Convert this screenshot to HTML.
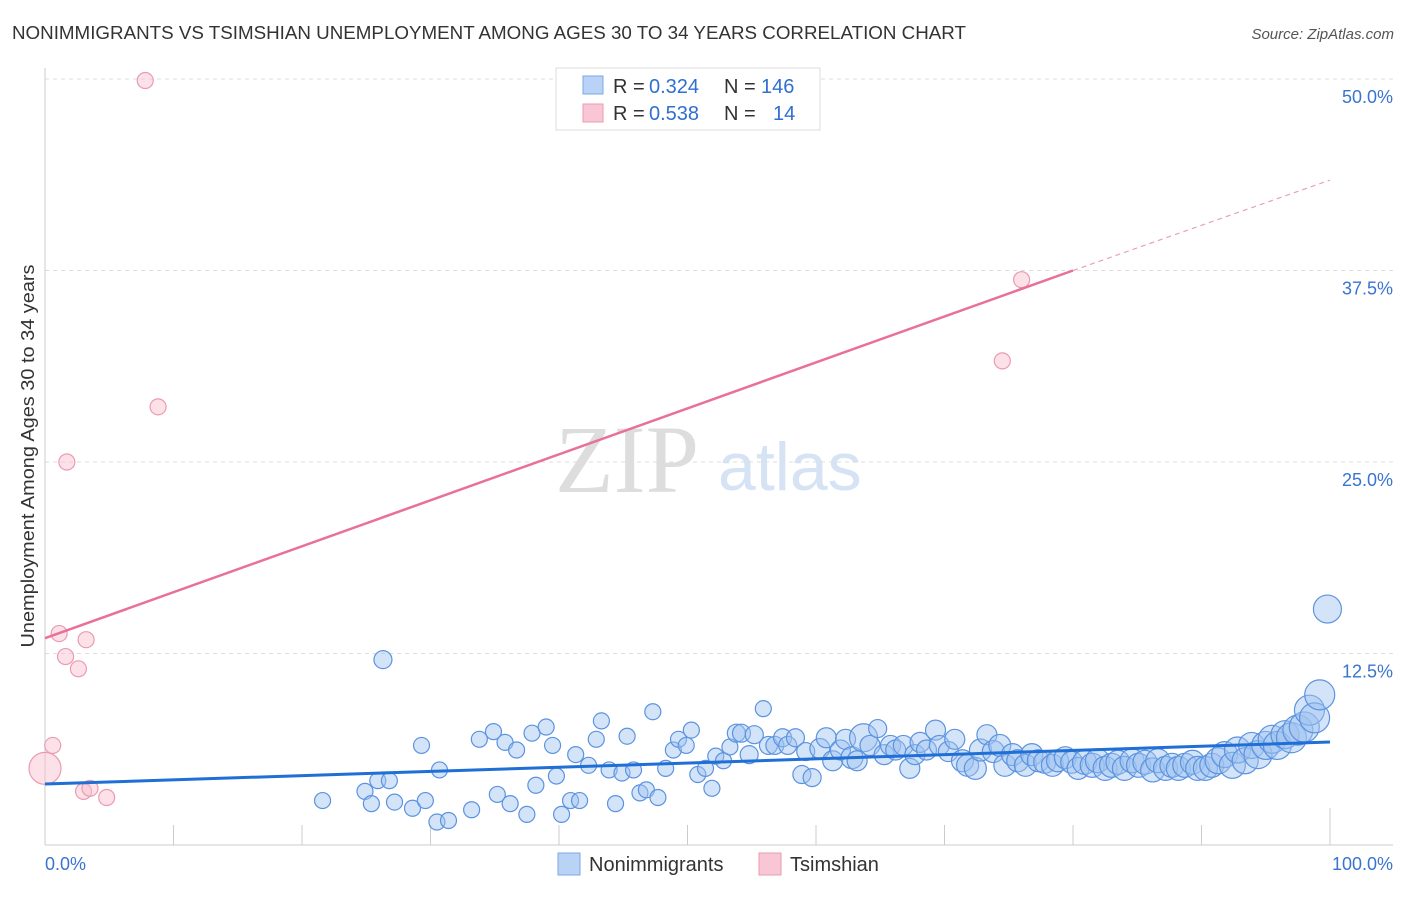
<!DOCTYPE html>
<html><head><meta charset="utf-8"><style>
body{margin:0;background:#fff;font-family:"Liberation Sans",sans-serif;}
</style></head><body>
<svg width="1406" height="892" viewBox="0 0 1406 892" xmlns="http://www.w3.org/2000/svg" font-family="Liberation Sans, sans-serif">
<text x="12" y="39" font-size="18" fill="#333" textLength="954" lengthAdjust="spacingAndGlyphs">NONIMMIGRANTS VS TSIMSHIAN UNEMPLOYMENT AMONG AGES 30 TO 34 YEARS CORRELATION CHART</text>
<text x="1394" y="39" font-size="15" fill="#555" font-style="italic" text-anchor="end">Source: ZipAtlas.com</text>
<text x="555" y="492" font-size="96" fill="#ddd" font-family="Liberation Serif, serif">ZIP</text>
<text x="718" y="490" font-size="68" fill="#d5e3f5">atlas</text>
<g id="grid"></g>
<g id="axes"></g>
<g id="marks"></g>
<text x="34" y="456" font-size="18" fill="#333" text-anchor="middle" textLength="383" lengthAdjust="spacingAndGlyphs" transform="rotate(-90 34 456)">Unemployment Among Ages 30 to 34 years</text>
<g>
<rect x="556" y="68" width="264" height="62" fill="#fff" stroke="#ddd"/>
<rect x="583" y="76" width="20" height="18" fill="#b8d3f5" stroke="#7aa8e6"/>
<rect x="583" y="104" width="20" height="18" fill="#f9c6d5" stroke="#eb9ab2"/>
<text x="613" y="93" font-size="20" fill="#333">R =</text>
<text x="649" y="93" font-size="20" fill="#2f6fd0">0.324</text>
<text x="724" y="93" font-size="20" fill="#333">N =</text>
<text x="761" y="93" font-size="20" fill="#2f6fd0">146</text>
<text x="613" y="120" font-size="20" fill="#333">R =</text>
<text x="649" y="120" font-size="20" fill="#2f6fd0">0.538</text>
<text x="724" y="120" font-size="20" fill="#333">N =</text>
<text x="773" y="120" font-size="20" fill="#2f6fd0">14</text>
</g>
<g>
<rect x="558" y="853" width="22" height="22" fill="#b8d3f5" stroke="#7aa8e6"/>
<text x="589" y="871" font-size="20" fill="#333">Nonimmigrants</text>
<rect x="759" y="853" width="22" height="22" fill="#f9c6d5" stroke="#eb9ab2"/>
<text x="790" y="871" font-size="20" fill="#333">Tsimshian</text>
</g>
</svg>
<script>
const yTicks=[12.5,25,37.5,50];
const yTickLabels=["12.5%","25.0%","37.5%","50.0%"];
const xTicks=[0,10,20,30,40,50,60,70,80,90,100];
const xTickLabels=["0.0%","100.0%"];
const blueX=[21.6,26.3,24.9,25.4,25.9,26.8,27.2,28.6,29.3,29.6,30.5,30.7,31.4,33.2,33.8,34.9,35.2,35.8,36.2,36.7,37.5,37.9,38.2,39.0,39.5,39.8,40.2,40.9,41.3,41.6,42.3,42.9,43.3,43.9,44.4,44.9,45.3,45.8,46.3,46.8,47.3,47.7,48.3,48.9,49.3,49.9,50.3,50.8,51.4,51.9,52.2,52.8,53.3,53.8,54.2,54.8,55.2,55.9,56.3,56.8,57.4,57.8,58.4,58.9,59.2,59.7,60.3,60.8,61.3,61.9,62.3,62.8,63.2,63.7,64.2,64.8,65.3,65.8,66.2,66.8,67.3,67.7,68.1,68.6,69.3,69.6,70.3,70.8,71.4,71.8,72.4,72.8,73.3,73.8,74.3,74.7,75.3,75.7,76.3,76.8,77.3,77.8,78.4,78.8,79.4,79.9,80.4,80.9,81.5,81.9,82.5,83.0,83.5,84.0,84.6,85.1,85.6,86.2,86.6,87.2,87.7,88.2,88.7,89.3,89.7,90.3,90.8,91.3,91.8,92.4,92.8,93.4,93.9,94.4,95.0,95.5,95.9,96.5,97.0,97.5,98.0,98.4,98.8,99.2,99.8];
const blueY=[2.9,12.1,3.5,2.7,4.2,4.2,2.8,2.4,6.5,2.9,1.5,4.9,1.6,2.3,6.9,7.4,3.3,6.7,2.7,6.2,2.0,7.3,3.9,7.7,6.5,4.5,2.0,2.9,5.9,2.9,5.2,6.9,8.1,4.9,2.7,4.7,7.1,4.9,3.4,3.6,8.7,3.1,5.0,6.2,6.9,6.5,7.5,4.6,5.0,3.7,5.8,5.5,6.4,7.3,7.3,5.9,7.2,8.9,6.5,6.5,7.0,6.5,7.0,4.6,6.1,4.4,6.3,7.0,5.5,6.2,6.9,5.7,5.5,7.0,6.5,7.6,5.9,6.5,6.2,6.5,5.0,5.9,6.7,6.2,7.5,6.5,6.1,6.9,5.5,5.2,5.0,6.2,7.2,6.1,6.5,5.2,5.9,5.5,5.2,5.9,5.5,5.4,5.2,5.5,5.7,5.4,5.0,5.4,5.2,5.5,5.0,5.2,5.4,5.0,5.5,5.2,5.4,4.9,5.5,5.0,5.2,5.0,5.2,5.4,5.0,5.0,5.2,5.5,5.9,5.2,6.2,5.5,6.5,5.9,6.5,6.9,6.5,7.2,7.0,7.5,7.7,8.8,8.3,9.8,15.4];
const blueR=[8,9,8,8,8,8,8,8,8,8,8,8,8,8,8,8,8,8,8,8,8,8,8,8,8,8,8,8,8,8,8,8,8,8,8,8,8,8,8,8,8,8,8,8,8,8,8,8,8,8,8,8,8,9,9,9,9,8,9,9,9,9,9,9,9,9,10,10,10,10,10,11,10,14,10,9,10,10,10,10,10,10,10,10,10,10,10,10,11,11,11,11,10,11,11,11,11,11,11,11,11,11,11,11,11,11,11,12,12,12,12,12,12,12,12,12,12,12,12,12,12,12,12,12,12,12,12,13,13,13,13,13,13,14,14,14,14,14,15,15,15,15,15,15,14,13];
const pinkX=[7.8,8.8,1.7,1.1,3.2,1.6,2.6,0.6,0.0,3.0,3.5,4.8,76.0,74.5];
const pinkY=[49.9,28.6,25.0,13.8,13.4,12.3,11.5,6.5,5.0,3.5,3.7,3.1,36.9,31.6];
const pinkR=[8,8,8,8,8,8,8,8,16,8,8,8,8,8];
const blueTrend=[[0,3.98],[100,6.72]];
const pinkTrend=[[0,13.5],[80,37.5],[100,43.4]];
const NS="http://www.w3.org/2000/svg";
const X=v=>45+v*12.85, Y=v=>845-v*15.32;
function mk(t,a,p){const e=document.createElementNS(NS,t);for(const k in a)e.setAttribute(k,a[k]);p.appendChild(e);return e;}
const grid=document.getElementById('grid'),axes=document.getElementById('axes'),marks=document.getElementById('marks');
yTicks.forEach((v,i)=>{const l=mk('line',{x1:45,x2:1393,y1:Y(v),y2:Y(v),stroke:'#ddd','stroke-dasharray':'4,4'},grid);


const t=mk('text',{x:1393,y:Y(v)+24,'font-size':18,fill:'#3a74d0','text-anchor':'end'},axes);t.textContent=yTickLabels[i];

});
mk('line',{x1:45,x2:45,y1:68,y2:845,stroke:'#ccc'},axes);
mk('line',{x1:45,x2:1393,y1:845,y2:845,stroke:'#ccc'},axes);
xTicks.forEach(v=>{const l=mk('line',{x1:X(v),x2:X(v),y1:v==100?808:825,y2:845,stroke:'#ccc'},axes);

});
let t0=mk('text',{x:45,y:870,'font-size':18,fill:'#3a74d0'},axes);t0.textContent=xTickLabels[0];


let t1=mk('text',{x:1393,y:870,'font-size':18,fill:'#3a74d0','text-anchor':'end'},axes);t1.textContent=xTickLabels[1];


blueX.forEach((v,i)=>{const c=mk('circle',{cx:X(v),cy:Y(blueY[i]),r:blueR[i],fill:'rgba(160,196,240,0.45)',stroke:'#5b93e0','stroke-width':1.2},marks);

});
pinkX.forEach((v,i)=>{const c=mk('circle',{cx:X(v),cy:Y(pinkY[i]),r:pinkR[i],fill:'rgba(248,190,205,0.45)',stroke:'#eb9ab2','stroke-width':1.2},marks);

});
let bl=mk('line',{x1:X(blueTrend[0][0]),y1:Y(blueTrend[0][1]),x2:X(blueTrend[1][0]),y2:Y(blueTrend[1][1]),stroke:'#1f6fd6','stroke-width':3},marks);


let pl=mk('line',{x1:X(pinkTrend[0][0]),y1:Y(pinkTrend[0][1]),x2:X(pinkTrend[1][0]),y2:Y(pinkTrend[1][1]),stroke:'#e8709a','stroke-width':2.5},marks);


let pd=mk('line',{x1:X(pinkTrend[1][0]),y1:Y(pinkTrend[1][1]),x2:X(pinkTrend[2][0]),y2:Y(pinkTrend[2][1]),stroke:'#eaa0b8','stroke-width':1.2,'stroke-dasharray':'5,4'},marks);


</script>
</body></html>
